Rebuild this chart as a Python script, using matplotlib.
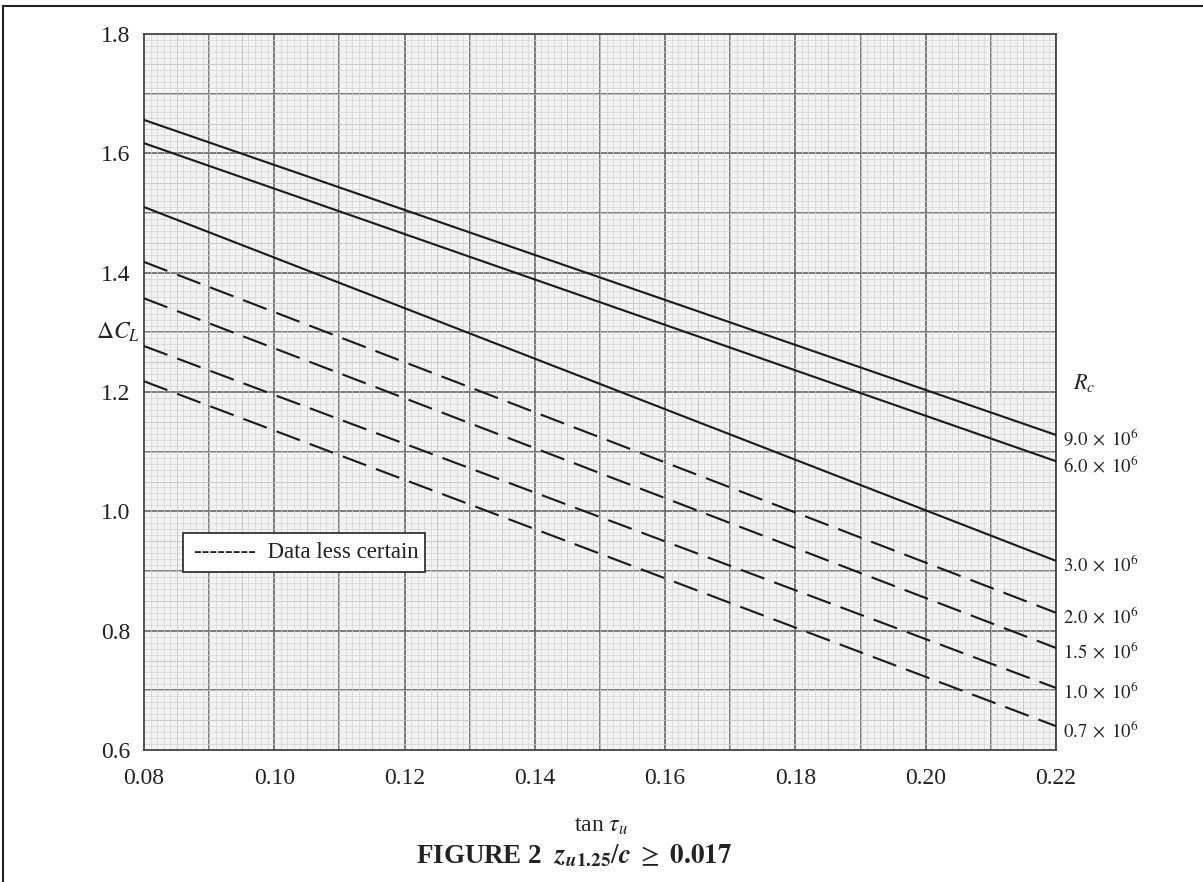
import matplotlib
matplotlib.use("Agg")
import matplotlib.pyplot as plt
from matplotlib.lines import Line2D
from matplotlib.patches import Rectangle
from matplotlib.ticker import MultipleLocator
import numpy as np

plt.rcParams['font.family'] = ['Liberation Serif', 'DejaVu Serif']
plt.rcParams['mathtext.fontset'] = 'stix'

# ---------------- data ----------------
tan_tau = [0.08, 0.22]
solid_labels = ["9.0", "6.0", "3.0"]
solid_values = {
    "9.0": [1.656, 1.128],
    "6.0": [1.617, 1.084],
    "3.0": [1.510, 0.917],
}
dashed_labels = ["2.0", "1.5", "1.0", "0.7"]
dashed_values = {
    "2.0": [1.418, 0.830],
    "1.5": [1.357, 0.771],
    "1.0": [1.277, 0.704],
    "0.7": [1.218, 0.640],
}
x_ticks = [0.08, 0.10, 0.12, 0.14, 0.16, 0.18, 0.20, 0.22]
y_ticks = [0.6, 0.8, 1.0, 1.2, 1.4, 1.6, 1.8]

# ---------------- figure ----------------
W, H = 1203, 882
fig = plt.figure(figsize=(W / 100, H / 100), dpi=100)
L, R, T, B = 144, 1056, 34, 750
ax = fig.add_axes([L / W, 1 - B / H, (R - L) / W, (B - T) / H])
ax.set_facecolor('#f3f3f3')
ax.set_xlim(0.08, 0.22)
ax.set_ylim(0.6, 1.8)

# graph-paper grid
ax.xaxis.set_minor_locator(MultipleLocator(0.001))
ax.yaxis.set_minor_locator(MultipleLocator(0.01))
ax.grid(which='minor', color='#d2d2d2', lw=0.5, zorder=0)
for xv in np.arange(0.085, 0.22, 0.01):
    ax.axvline(xv, color='#b4b4b4', lw=0.7, zorder=0.5)
for yv in np.arange(0.65, 1.8, 0.1):
    ax.axhline(yv, color='#b4b4b4', lw=0.7, zorder=0.5)
for xv in np.arange(0.09, 0.2201, 0.01):
    ax.axvline(xv, color='#666666', lw=1.2, zorder=1)
for yv in np.arange(0.7, 1.8, 0.1):
    ax.axhline(yv, color='#666666', lw=1.2, zorder=1)

ax.set_xticks(x_ticks)
ax.set_xticklabels([f"{v:.2f}" for v in x_ticks])
ax.set_yticks(y_ticks)
ax.set_yticklabels([f"{v:.1f}" for v in y_ticks])
ax.tick_params(which='both', length=0, labelsize=17, colors='#222222', pad=10)
ax.tick_params(axis='x', pad=13)
for s in ax.spines.values():
    s.set_color('#444444')
    s.set_linewidth(1.3)

def rlabel(name, yend):
    ax.annotate(r"$\mathrm{" + name + r"}\;\times\;\mathrm{10}^{6}$",
                xy=(0.22, yend), xycoords='data',
                xytext=(5, -3), textcoords='offset points',
                ha='left', va='center', fontsize=13.5, color='#222222',
                annotation_clip=False)

for name in solid_labels:
    ax.plot(tan_tau, solid_values[name], color='#1a1a1a', lw=1.5, zorder=3)
    rlabel(name, solid_values[name][1])
for name in dashed_labels:
    ax.plot(tan_tau, dashed_values[name], color='#1a1a1a', lw=1.5, zorder=3,
            linestyle=(0, (12, 5)))
    rlabel(name, dashed_values[name][1])

ax.annotate(r"$R_c$", xy=(1.0, 1.215), xycoords=('axes fraction', 'data'),
            xytext=(12, 0), textcoords='offset points',
            ha='left', va='center', fontsize=16, color='#222222',
            annotation_clip=False)

ax.annotate(r"$\Delta C_L$", xy=(0.0, 1.30), xycoords=('axes fraction', 'data'),
            xytext=(-26, 0), textcoords='offset pixels',
            ha='center', va='center', fontsize=17, color='#222222',
            annotation_clip=False)

# legend box
ax.add_patch(Rectangle((0.0860, 0.8983), 0.1231 - 0.0860, 0.9637 - 0.8983,
                       fc='white', ec='#333333', lw=1.3, zorder=5))
ax.text(0.0876, 0.931, "--------  Data less certain", fontsize=16.5,
        ha='left', va='center', color='#222222', zorder=6)

# labels
fig.text(601 / W, 1 - 826 / H, r"tan $\tau_u$", ha='center', va='center',
         fontsize=17, color='#222222')
fig.text(574 / W, 1 - 856 / H,
         r"FIGURE 2  $\mathbfit{z}_{\mathbfit{u}\mathbf{1.25}}/\mathbfit{c}\ \geq\ \mathbf{0.017}$",
         ha='center', va='center', fontsize=19.5, fontweight='bold', color='#222222')

# page frame
fig.add_artist(Line2D([3 / W, 1], [1 - 6 / H, 1 - 6 / H], transform=fig.transFigure,
                      color='#222222', lw=1.5))
fig.add_artist(Line2D([3 / W, 3 / W], [0, 1 - 6 / H], transform=fig.transFigure,
                      color='#222222', lw=1.5))

fig.savefig("out.png", dpi=100)
